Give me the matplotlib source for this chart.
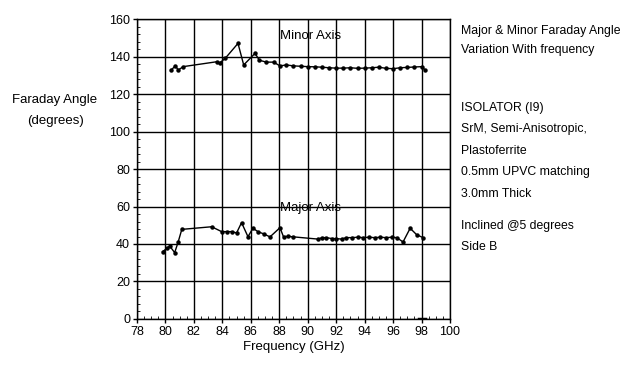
import numpy as np
import matplotlib.pyplot as plt
from matplotlib.ticker import MultipleLocator

plt.rcParams['font.family'] = ['Liberation Sans', 'DejaVu Sans']

# Minor axis Faraday angle (degrees) vs frequency (GHz)
minor_freq = [80.4, 80.7, 80.9, 81.25, 83.6, 83.8, 84.2, 85.1, 85.5, 86.3, 86.6, 87.1,
              87.6, 88.05, 88.5, 89.0, 89.5, 90.0, 90.5, 91.0, 91.5, 92.0, 92.5, 93.0,
              93.5, 94.0, 94.5, 95.0, 95.5, 96.0, 96.5, 97.0, 97.5, 98.0, 98.25]
minor_angle = [132.8, 135.0, 132.8, 134.6, 137.2, 136.5, 139.0, 147.0, 135.5, 141.7,
               138.0, 137.0, 137.0, 135.0, 135.5, 135.0, 134.8, 134.6, 134.5, 134.3,
               134.0, 133.8, 133.8, 134.0, 133.7, 133.8, 134.0, 134.3, 133.7, 133.5,
               134.0, 134.2, 134.4, 134.6, 132.8]

# Major axis Faraday angle (degrees) vs frequency (GHz)
major_freq = [79.8, 80.1, 80.3, 80.65, 80.9, 81.15, 83.25, 83.95, 84.3, 84.65, 85.0,
              85.35, 85.8, 86.15, 86.5, 86.9, 87.35, 88.05, 88.3, 88.6, 89.0, 90.75,
              91.0, 91.3, 91.7, 92.0, 92.4, 92.7, 93.1, 93.5, 93.9, 94.3, 94.7, 95.1,
              95.5, 95.9, 96.25, 96.7, 97.2, 97.65, 98.1]
major_angle = [35.9, 37.7, 38.9, 35.4, 41.2, 47.8, 49.2, 46.6, 46.6, 46.6, 45.9,
               51.4, 43.9, 48.4, 46.6, 45.4, 43.8, 48.7, 43.8, 44.1, 43.8, 42.6,
               43.4, 43.4, 42.9, 42.9, 42.6, 43.4, 43.4, 43.6, 43.4, 43.6, 43.4, 43.6,
               43.4, 43.6, 43.4, 41.1, 48.4, 45.0, 43.4]

# short flat trace at zero near 98 GHz
zero_freq = [97.8, 98.25]
zero_angle = [0, 0]

x_ticks = list(range(78, 101, 2))
y_ticks = list(range(0, 161, 20))

notes = ["Major & Minor Faraday Angle", "Variation With frequency", "",
         "ISOLATOR (I9)", "SrM, Semi-Anisotropic,", "Plastoferrite",
         "0.5mm UPVC matching", "3.0mm Thick", "Inclined @5 degrees", "Side B"]
note_y = [31, 50, None, 108, 129, 151, 172, 194, 226, 247]

fig = plt.figure(figsize=(6.33, 3.67), dpi=100)
ax = fig.add_axes([0.2164, 0.1308, 0.4945, 0.8174])

ax.plot(minor_freq, minor_angle, color='black', lw=1.0, marker='o', ms=2.2)
ax.plot(major_freq, major_angle, color='black', lw=1.0, marker='o', ms=2.2)
ax.plot(zero_freq, zero_angle, color='black', lw=2.5)

ax.set_xlim(78, 100)
ax.set_ylim(0, 160)
ax.set_xticks(x_ticks)
ax.set_yticks(y_ticks)
ax.xaxis.set_minor_locator(MultipleLocator(0.5))
ax.yaxis.set_minor_locator(MultipleLocator(4))
ax.grid(True, which='major', color='black', lw=1.0)
ax.tick_params(which='major', direction='out', length=3, width=1, labelsize=9, pad=2)
ax.tick_params(which='minor', direction='in', length=2, width=0.6)
for s in ax.spines.values():
    s.set_linewidth(1.0)

ax.set_xlabel('Frequency (GHz)', fontsize=9.5, labelpad=2)

ax.text(90.2, 151, 'Minor Axis', fontsize=9.5, ha='center', va='center')
ax.text(90.2, 59, 'Major Axis', fontsize=9.5, ha='center', va='center')

fig.text(55 / 633, 1 - 100 / 367, 'Faraday Angle', fontsize=9.5, ha='center', va='center')
fig.text(55 / 633, 1 - 121 / 367, '(degrees)', fontsize=9.5, ha='center', va='center')

for line, yp in zip(notes, note_y):
    if line:
        fig.text(461 / 633, 1 - yp / 367, line, fontsize=8.8, ha='left', va='center')

fig.savefig('out.png', dpi=100)
